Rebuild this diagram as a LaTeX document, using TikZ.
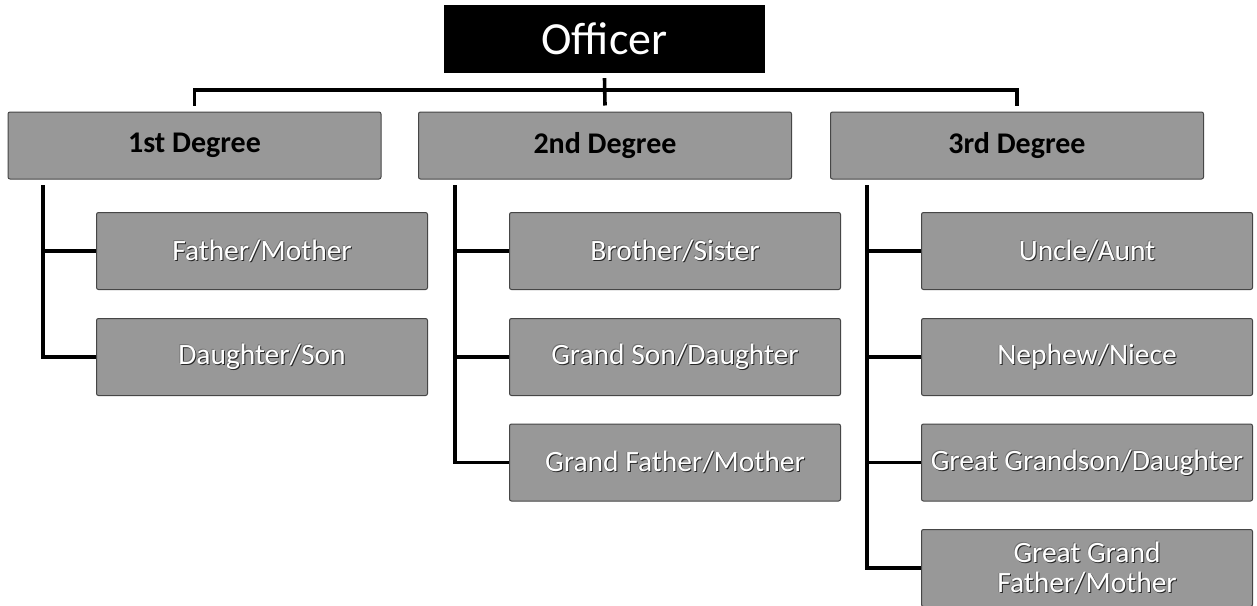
\documentclass[tikz,border=0pt]{standalone}
\usepackage{fontspec}
\setmainfont{Carlito}
\definecolor{boxgray}{RGB}{152,152,152}
\definecolor{boxedge}{RGB}{70,70,70}
\newcommand\emb[1]{\leavevmode\rlap{\kern1pt\raisebox{-1pt}{\textcolor{black!85}{#1}}}\rlap{\kern-0.6pt\raisebox{0.6pt}{\textcolor{black!55}{#1}}}#1}
\begin{document}
\begin{tikzpicture}[x=1pt,y=-1pt,
  boss/.style={fill=black, minimum width=321, minimum height=68, inner sep=0pt, text=white, font=\fontsize{46}{50}\selectfont},
  deg/.style={draw=boxedge, line width=1pt, fill=boxgray, rounded corners=2pt, minimum width=373, minimum height=67, inner sep=0pt, font=\bfseries\fontsize{30}{33}\selectfont},
  kid/.style={draw=boxedge, line width=1pt, fill=boxgray, rounded corners=2pt, minimum width=331, minimum height=77, inner sep=0pt, text=white, align=center, font=\fontsize{29.5}{30}\selectfont},
  conn/.style={draw=black, line width=3.6pt, line join=miter}]
\useasboundingbox (0,0) rectangle (1257,605);
\fill[white] (0,0) rectangle (1257,605);
% nodes
\node[boss] (boss) at (604.5,39) {Officer};
\node[deg] (d1) at (194.5,145.5) {1st Degree};
\node[deg] (d2) at (605,145.5) {2nd Degree};
\node[deg] (d3) at (1017,145.5) {3rd Degree};
\node[kid] (k11) at (262,251) {\emb{Father/Mother}};
\node[kid] (k12) at (262,357) {\emb{Daughter/Son}};
\node[kid] (k21) at (675,251) {\emb{Brother/Sister}};
\node[kid] (k22) at (675,357) {\emb{Grand Son/Daughter}};
\node[kid] (k23) at (675,462.5) {\emb{Grand Father/Mother}};
\node[kid] (k31) at (1087,251) {\emb{Uncle/Aunt}};
\node[kid] (k32) at (1087,357) {\emb{Nephew/Niece}};
\node[kid] (k33) at (1087,462.5) {\emb{Great Grandson/Daughter}};
\node[kid] (k34) at (1087,568) {\emb{Great Grand}\\[0.5pt]\emb{Father/Mother}};
% coordinates
\coordinate (barmid) at (605,90);
\coordinate (s1) at (43,185);
\coordinate (s2) at (455,185);
\coordinate (s3) at (867,185);
% connectors
\draw[conn] ([yshift=-5pt]boss.south) -- ([yshift=6pt]d2.north);
\draw[conn] ([yshift=6pt]d1.north) |- (barmid) -| ([yshift=6pt]d3.north);
\draw[conn] (s1) |- (k12.west);
\draw[conn] (s1 |- k11.west) -- (k11.west);
\draw[conn] (s2) |- (k23.west);
\draw[conn] (s2 |- k21.west) -- (k21.west);
\draw[conn] (s2 |- k22.west) -- (k22.west);
\draw[conn] (s3) |- (k34.west);
\draw[conn] (s3 |- k31.west) -- (k31.west);
\draw[conn] (s3 |- k32.west) -- (k32.west);
\draw[conn] (s3 |- k33.west) -- (k33.west);
\end{tikzpicture}
\end{document}
